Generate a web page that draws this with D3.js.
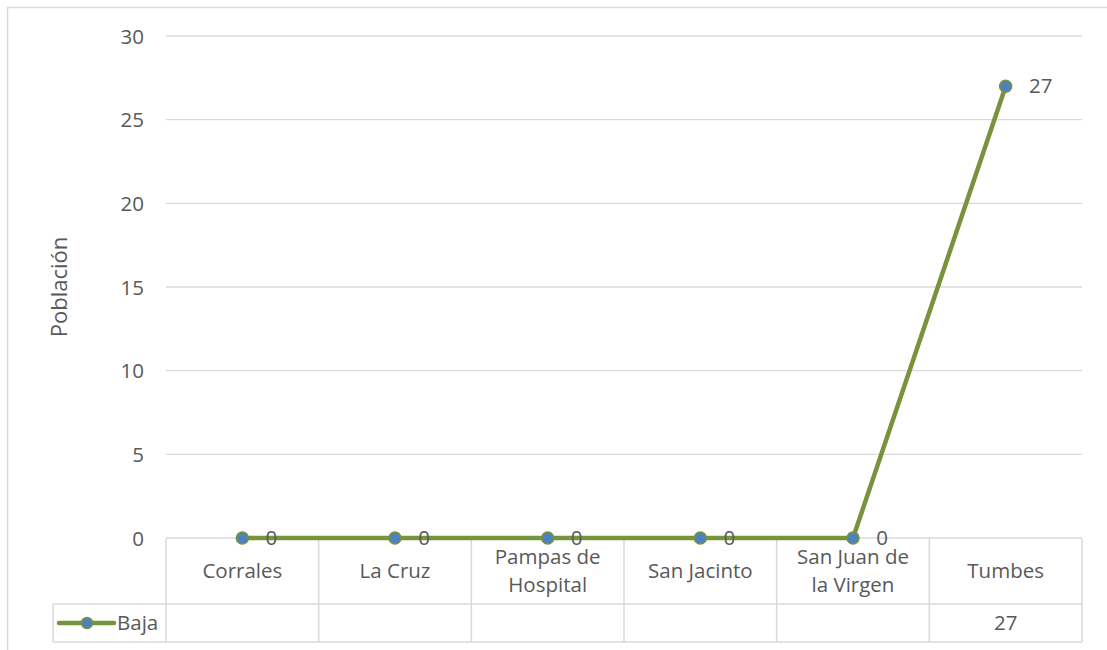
<!DOCTYPE html>
<html><head><meta charset="utf-8">
<script src="https://cdn.jsdelivr.net/npm/d3@7"></script>
<style>body{margin:0;background:#fff}svg{display:block}text{font-family:"Open Sans",sans-serif;fill:#595959}</style>
</head><body>
<svg id="c" width="1107" height="650"></svg>
<script>
const categories = ["Corrales","La Cruz","Pampas de Hospital","San Jacinto","San Juan de la Virgen","Tumbes"];
const categoryLines = [["Corrales"],["La Cruz"],["Pampas de","Hospital"],["San Jacinto"],["San Juan de","la Virgen"],["Tumbes"]];
const seriesName = "Baja";
const values = [0,0,0,0,0,27];
const tableValues = ["","","","","","27"];
const yTicks = [0,5,10,15,20,25,30];
const yTitle = "Población";

const svg = d3.select("#c");
const L=166, R=1082, T=36, B=538;
const x = d3.scaleBand().domain(categories).range([L,R]);
const y = d3.scaleLinear().domain([0,30]).range([B,T]);
const grid="#d9d9d9", green="#77933c", blue="#4f81bd";
const FS="20.5px";

// outer border
svg.append("rect").attr("x",7.5).attr("y",7.5).attr("width",1120).attr("height",700).attr("fill","none").attr("stroke",grid).attr("stroke-width",1.5);

// gridlines
svg.append("g").selectAll("line").data(yTicks.filter(d=>d>0)).join("line")
  .attr("x1",L).attr("x2",R).attr("y1",d=>y(d)).attr("y2",d=>y(d)).attr("stroke",grid).attr("stroke-width",1.3);

// y axis labels
const yAxis = d3.axisLeft(y).tickValues(yTicks).tickSize(0).tickPadding(0);
const ga = svg.append("g").attr("transform",`translate(144,0)`).call(yAxis);
ga.select(".domain").remove();
ga.selectAll("text").style("font-size",FS).attr("fill","#595959").attr("dy","0.35em").style("font-family","'Open Sans',sans-serif");

svg.append("text").attr("transform",`translate(67,${(T+B)/2}) rotate(-90)`).attr("text-anchor","middle").style("font-size","22px").text(yTitle);

// data table
const rowMid = 604, rowBot = 642, legL = 53;
const tg = svg.append("g").attr("stroke",grid).attr("stroke-width",1.5);
tg.append("line").attr("x1",L).attr("x2",R).attr("y1",B).attr("y2",B);
tg.append("line").attr("x1",legL).attr("x2",R).attr("y1",rowMid).attr("y2",rowMid);
tg.append("line").attr("x1",legL).attr("x2",R).attr("y1",rowBot).attr("y2",rowBot);
tg.append("line").attr("x1",legL).attr("x2",legL).attr("y1",rowMid).attr("y2",rowBot);
const edges = categories.map(c=>x(c)).concat([R]);
tg.selectAll(".v").data(edges).join("line").attr("x1",d=>d).attr("x2",d=>d).attr("y1",B).attr("y2",rowBot);

const cg = svg.append("g");
categories.forEach((c,i)=>{
  const lines = categoryLines[i];
  const cx = x(c)+x.bandwidth()/2;
  const mid = (B+rowMid)/2;
  const t = cg.append("text").attr("x",cx).attr("text-anchor","middle").style("font-size",FS);
  lines.forEach((ln,j)=>{
    t.append("tspan").attr("x",cx).attr("y",mid+(j-(lines.length-1)/2)*28).attr("dy","0.35em").text(ln);
  });
  if(tableValues[i]) cg.append("text").attr("x",cx).attr("y",(rowMid+rowBot)/2).attr("dy","0.35em").attr("text-anchor","middle").style("font-size",FS).text(tableValues[i]);
});

// legend
const ly=(rowMid+rowBot)/2;
svg.append("line").attr("x1",59).attr("x2",114).attr("y1",ly).attr("y2",ly).attr("stroke",green).attr("stroke-width",4.5).attr("stroke-linecap","round");
svg.append("circle").attr("cx",87).attr("cy",ly).attr("r",5.5).attr("fill",blue).attr("stroke",green).attr("stroke-width",1.5);
svg.append("text").attr("x",117).attr("y",ly).attr("dy","0.35em").style("font-size",FS).text(seriesName);

// line
const pts = categories.map((c,i)=>({c,v:values[i]}));
svg.append("path").datum(pts).attr("fill","none").attr("stroke",green).attr("stroke-width",4.5).attr("stroke-linejoin","round")
  .attr("d",d3.line().x(d=>x(d.c)+x.bandwidth()/2).y(d=>y(d.v)));
svg.append("g").selectAll("circle").data(pts).join("circle")
  .attr("cx",d=>x(d.c)+x.bandwidth()/2).attr("cy",d=>y(d.v)).attr("r",6).attr("fill",blue).attr("stroke",green).attr("stroke-width",1.5);
svg.append("g").selectAll("text").data(pts).join("text")
  .attr("x",d=>x(d.c)+x.bandwidth()/2+(d.v>9?35:29)).attr("y",d=>y(d.v)).attr("dy","0.35em").attr("text-anchor","middle").style("font-size",FS).attr("fill","#404040").text(d=>d.v);
</script>
</body></html>
